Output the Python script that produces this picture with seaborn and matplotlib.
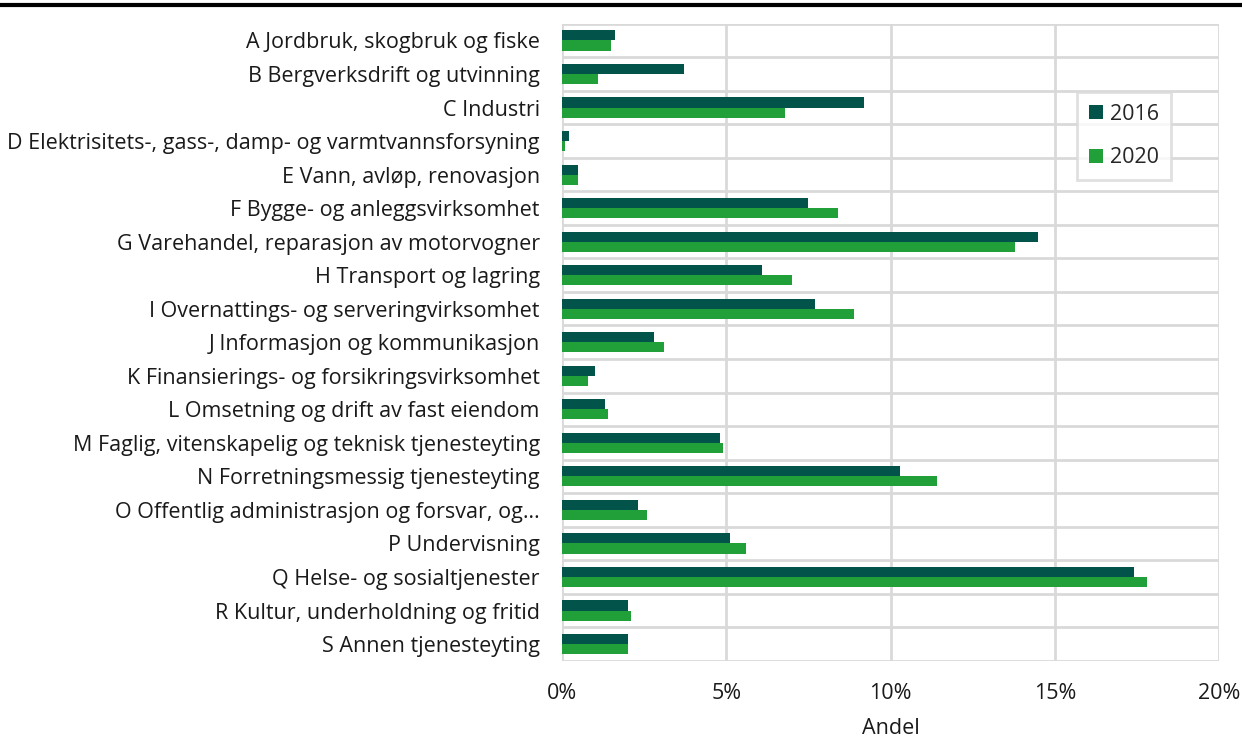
import numpy as np
import pandas as pd
import matplotlib
matplotlib.use("Agg")
import matplotlib.pyplot as plt
from matplotlib.lines import Line2D
from matplotlib.ticker import FuncFormatter
import seaborn as sns

# Andel sysselsatte per næring
naering = [
    "A Jordbruk, skogbruk og fiske",
    "B Bergverksdrift og utvinning",
    "C Industri",
    "D Elektrisitets-, gass-, damp- og varmtvannsforsyning",
    "E Vann, avløp, renovasjon",
    "F Bygge- og anleggsvirksomhet",
    "G Varehandel, reparasjon av motorvogner",
    "H Transport og lagring",
    "I Overnattings- og serveringvirksomhet",
    "J Informasjon og kommunikasjon",
    "K Finansierings- og forsikringsvirksomhet",
    "L Omsetning og drift av fast eiendom",
    "M Faglig, vitenskapelig og teknisk tjenesteyting",
    "N Forretningsmessig tjenesteyting",
    "O Offentlig administrasjon og forsvar, og…",
    "P Undervisning",
    "Q Helse- og sosialtjenester",
    "R Kultur, underholdning og fritid",
    "S Annen tjenesteyting",
]
andel_2016 = [1.6, 3.7, 9.2, 0.2, 0.5, 7.5, 14.5, 6.1, 7.7, 2.8,
              1.0, 1.3, 4.8, 10.3, 2.3, 5.1, 17.4, 2.0, 2.0]
andel_2020 = [1.5, 1.1, 6.8, 0.1, 0.5, 8.4, 13.8, 7.0, 8.9, 3.1,
              0.8, 1.4, 4.9, 11.4, 2.6, 5.6, 17.8, 2.1, 2.0]
aar = ["2016", "2020"]
farger = ["#02544a", "#21a03a"]

df = pd.DataFrame({
    "Næring": naering * 2,
    "Andel": andel_2016 + andel_2020,
    "År": [aar[0]] * len(naering) + [aar[1]] * len(naering),
})

sns.set_style("white")
plt.rcParams["font.family"] = ["Open Sans", "DejaVu Sans"]
fs = 15.5

fig, ax = plt.subplots(figsize=(12.42, 7.40), dpi=100)
fig.subplots_adjust(left=0.4525, right=0.9815, top=0.968, bottom=0.107)

sns.barplot(data=df, y="Næring", x="Andel", hue="År", palette=farger,
            orient="h", width=0.6, ax=ax, saturation=1, zorder=3,
            edgecolor="none")

ax.set_xlim(0, 20)
ax.set_ylim(len(naering) - 0.5, -0.5)
ax.set_xticks([0, 5, 10, 15, 20])
ax.xaxis.set_major_formatter(FuncFormatter(lambda v, p: f"{v:.0f}%"))
ax.set_yticks(np.arange(-0.5, len(naering), 1), minor=True)

ax.grid(axis="x", which="major", color="#d9d9d9", linewidth=2, zorder=0)
ax.grid(axis="y", which="minor", color="#d9d9d9", linewidth=2, zorder=0)
ax.grid(axis="y", which="major", visible=False)
for s in ax.spines.values():
    s.set_visible(False)

ax.tick_params(axis="y", which="both", length=0, pad=16, labelsize=fs, labelcolor="#1a1a1a")
ax.tick_params(axis="x", length=0, pad=16, labelsize=fs, labelcolor="#1a1a1a")
ax.set_ylabel("")
ax.set_xlabel("Andel", fontsize=fs, color="#1a1a1a", labelpad=10)

leg = ax.legend(loc="upper left", bbox_to_anchor=(0.784, 0.893), frameon=True,
                fancybox=False, edgecolor="#d9d9d9", handlelength=0.65,
                handleheight=0.65, handletextpad=0.35, labelspacing=1.05,
                borderpad=0.55, borderaxespad=0, fontsize=fs)
leg.get_frame().set_linewidth(2)

# svart linje øverst
fig.add_artist(Line2D([0, 1], [0.993, 0.993], color="black", linewidth=3,
                      transform=fig.transFigure))

fig.savefig("out.png", dpi=100)
